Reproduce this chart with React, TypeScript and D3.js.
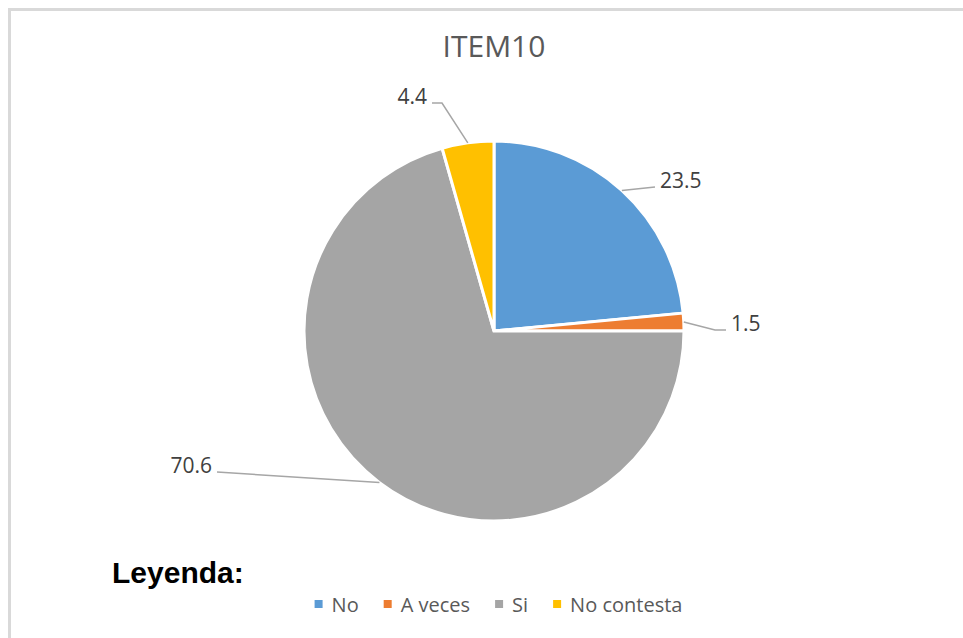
import React, { useEffect, useRef } from "react";
import * as d3 from "d3";

const title = "ITEM10";
const legendTitle = "Leyenda:";
const categories = ["No", "A veces", "Si", "No contesta"];
const values = [23.5, 1.5, 70.6, 4.4];
const colors = ["#5B9BD5", "#ED7D31", "#A5A5A5", "#FFC000"];

// leader-line layout (offsets from pie centre), one per slice
const labelLayout = [
  { pts: [[161, -144]], anchor: "start", tx: 166 },
  { pts: [[221, -1], [232, -1]], anchor: "start", tx: 237 },
  { pts: [[-277, 141]], anchor: "end", tx: -282 },
  { pts: [[-52, -228], [-62, -228]], anchor: "end", tx: -67 },
];

const W = 963;
const H = 638;
const CX = 494;
const CY = 331;
const R = 190;
const FONT = "'Open Sans', sans-serif";

export default function App() {
  const ref = useRef<SVGSVGElement | null>(null);

  useEffect(() => {
    const svg = d3.select(ref.current);
    svg.selectAll("*").remove();

    svg.append("rect").attr("x", 0).attr("y", 0).attr("width", W).attr("height", H).attr("fill", "#fff");
    // chart frame (right/bottom cropped)
    svg
      .append("rect")
      .attr("x", 9.5)
      .attr("y", 9.5)
      .attr("width", W + 20)
      .attr("height", H + 20)
      .attr("fill", "none")
      .attr("stroke", "#d9d9d9")
      .attr("stroke-width", 3);

    svg
      .append("text")
      .attr("x", CX)
      .attr("y", 57)
      .attr("text-anchor", "middle")
      .attr("font-family", FONT)
      .attr("font-size", 30)
      .attr("fill", "#595959")
      .text(title);

    const data = categories.map((c, i) => ({ c, v: values[i], i }));
    const pie = d3
      .pie<any>()
      .value((d) => d.v)
      .sort(null)
      .startAngle(0)
      .endAngle(2 * Math.PI);
    const arcs = pie(data);
    const arc = d3.arc<any>().innerRadius(0).outerRadius(R);

    const g = svg.append("g").attr("transform", `translate(${CX},${CY})`);
    g.selectAll("path.slice")
      .data(arcs)
      .enter()
      .append("path")
      .attr("class", "slice")
      .attr("d", arc as any)
      .attr("fill", (d: any) => colors[d.data.i])
      .attr("stroke", "#fff")
      .attr("stroke-width", 3)
      .attr("stroke-linejoin", "miter");

    arcs.forEach((a: any, k: number) => {
      const lay = labelLayout[k];
      const mid = (a.startAngle + a.endAngle) / 2;
      const sx = R * Math.sin(mid);
      const sy = -R * Math.cos(mid);
      const pts: [number, number][] = [[sx, sy], ...(lay.pts as [number, number][])];
      g.append("path")
        .attr("d", d3.line()(pts) as string)
        .attr("fill", "none")
        .attr("stroke", "#a6a6a6")
        .attr("stroke-width", 1.5);
      const last = pts[pts.length - 1];
      g.append("text")
        .attr("x", lay.tx)
        .attr("y", last[1] + 1)
        .attr("text-anchor", lay.anchor)
        .attr("font-family", FONT)
        .attr("font-size", 21)
        .attr("fill", "#404040")
        .text(d3.format(".1f")(a.data.v));
    });

    svg
      .append("text")
      .attr("x", 112)
      .attr("y", 583)
      .attr("font-family", "'Liberation Sans', Arial, sans-serif")
      .attr("font-weight", "bold")
      .attr("font-size", 30)
      .attr("fill", "#000")
      .text(legendTitle);

    // legend
    const lg = svg.append("g");
    const marker = 8;
    const gapM = 9;
    const gapItem = 25;
    const items = categories.map((c, i) => {
      const t = lg
        .append("text")
        .attr("y", 612)
        .attr("font-family", FONT)
        .attr("font-size", 20)
        .attr("fill", "#595959")
        .text(c);
      const w = (t.node() as SVGTextElement).getComputedTextLength();
      return { t, w, i };
    });
    const total =
      items.reduce((s, it) => s + marker + gapM + it.w, 0) + gapItem * (items.length - 1);
    let x = 498.5 - total / 2;
    items.forEach((it) => {
      lg.append("rect")
        .attr("x", x)
        .attr("y", 600)
        .attr("width", marker)
        .attr("height", marker)
        .attr("fill", colors[it.i]);
      it.t.attr("x", x + marker + gapM);
      x += marker + gapM + it.w + gapItem;
    });
  }, []);

  return (
    <svg
      ref={ref}
      width={W}
      height={H}
      style={{ position: "absolute", left: 0, top: 0, display: "block" }}
    />
  );
}
